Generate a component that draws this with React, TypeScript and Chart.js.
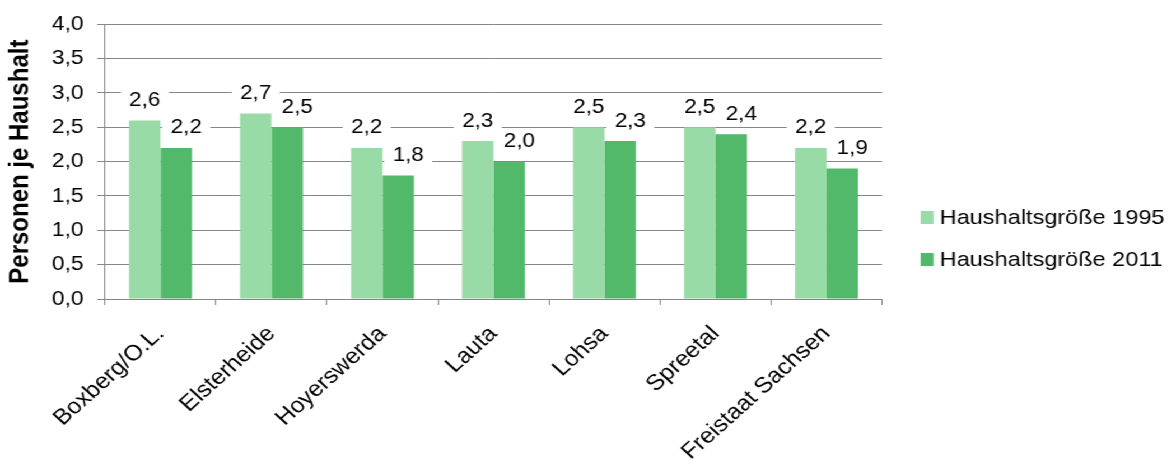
import { useEffect, useRef } from 'react';
import { Chart, registerables } from 'chart.js';

Chart.register(...registerables);

// Household size per municipality, persons per household
const categories = [
  'Boxberg/O.L.',
  'Elsterheide',
  'Hoyerswerda',
  'Lauta',
  'Lohsa',
  'Spreetal',
  'Freistaat Sachsen',
];
const size1995 = [2.6, 2.7, 2.2, 2.3, 2.5, 2.5, 2.2];
const size2011 = [2.2, 2.5, 1.8, 2.0, 2.3, 2.4, 1.9];
const seriesNames = ['Haushaltsgröße 1995', 'Haushaltsgröße 2011'];
const seriesColors = ['#98dba6', '#52b96b'];
const yMin = 0;
const yMax = 4;
const yStep = 0.5;
const yTitle = 'Personen je Haushalt';

// The drawing is rendered narrower and widened with a CSS scale
const STRETCH = 1.12;
const PAGE_W = 1176;
const PAGE_H = 461;
const CANVAS_W = Math.round(PAGE_W / STRETCH);

const FONT = '"Liberation Sans", Arial, Helvetica, sans-serif';
const GRID = '#868686';

const fmt = (v: number) => v.toFixed(1).replace('.', ',');

const valueLabels = {
  id: 'valueLabels',
  afterDatasetsDraw(chart: any) {
    const ctx = chart.ctx;
    ctx.save();
    ctx.font = `20px ${FONT}`;
    ctx.textAlign = 'center';
    ctx.textBaseline = 'middle';
    chart.data.datasets.forEach((ds: any, di: number) => {
      const meta = chart.getDatasetMeta(di);
      meta.data.forEach((bar: any, i: number) => {
        const text = fmt(ds.data[i]);
        const cx = bar.x + (di === 1 ? 9 : 0);
        const cy = bar.y - 21;
        const w = ctx.measureText(text).width + 15;
        ctx.fillStyle = '#ffffff';
        ctx.fillRect(cx - w / 2, cy - 11, w, 22);
        ctx.fillStyle = '#000000';
        ctx.fillText(text, cx, cy + 1);
      });
    });
    ctx.restore();
  },
};

const sideLegend = {
  id: 'sideLegend',
  afterDraw(chart: any) {
    const ctx = chart.ctx;
    const boxX = 822;
    const textX = 839;
    const rows = [217.5, 259.5];
    ctx.save();
    ctx.font = `21px ${FONT}`;
    ctx.textAlign = 'left';
    ctx.textBaseline = 'middle';
    chart.data.datasets.forEach((ds: any, di: number) => {
      const y = rows[di];
      ctx.fillStyle = ds.backgroundColor;
      ctx.fillRect(boxX, y - 6.5, 11.6, 13);
      ctx.fillStyle = '#000000';
      ctx.fillText(ds.label, textX, y + 1);
    });
    ctx.restore();
  },
};

export default function App() {
  const canvasRef = useRef<HTMLCanvasElement | null>(null);

  useEffect(() => {
    document.body.style.margin = '0';
    const canvas = canvasRef.current;
    if (!canvas) return;
    const chart = new Chart(canvas, {
      type: 'bar',
      data: {
        labels: categories,
        datasets: [
          {
            label: seriesNames[0],
            data: size1995,
            backgroundColor: seriesColors[0],
            borderWidth: 0,
            barPercentage: 1,
            categoryPercentage: 0.567,
          },
          {
            label: seriesNames[1],
            data: size2011,
            backgroundColor: seriesColors[1],
            borderWidth: 0,
            barPercentage: 1,
            categoryPercentage: 0.567,
          },
        ],
      },
      options: {
        responsive: false,
        animation: false,
        devicePixelRatio: 1,
        layout: { padding: { left: 0, right: CANVAS_W - 787.5, top: 21, bottom: 0 } },
        plugins: {
          legend: { display: false },
          tooltip: { enabled: false },
        },
        scales: {
          x: {
            offset: true,
            grid: {
              offset: true,
              drawOnChartArea: false,
              drawTicks: true,
              tickLength: 6,
              color: GRID,
              lineWidth: 1,
            },
            border: { color: GRID, width: 1 },
            ticks: {
              minRotation: 45,
              maxRotation: 45,
              autoSkip: false,
              padding: 16,
              color: '#000000',
              font: { family: FONT, size: 22 },
            },
            afterFit(scale: any) {
              scale.height = PAGE_H - 299;
              scale.paddingLeft = 0;
              scale.paddingRight = 0;
            },
          },
          y: {
            min: yMin,
            max: yMax,
            grid: {
              color: GRID,
              lineWidth: 1,
              drawTicks: true,
              tickLength: 7,
            },
            border: { color: GRID, width: 1 },
            ticks: {
              stepSize: yStep,
              padding: 12,
              color: '#000000',
              font: { family: FONT, size: 20.5 },
              callback: (v: any) => fmt(Number(v)),
            },
            title: {
              display: true,
              text: yTitle,
              color: '#000000',
              font: { family: FONT, size: 24, weight: 'bold' },
              padding: { top: 4, bottom: 0 },
            },
            afterFit(scale: any) {
              scale.width = 93.75;
            },
          },
        },
      },
      plugins: [valueLabels, sideLegend],
    });
    return () => chart.destroy();
  }, []);

  return (
    <div
      style={{
        position: 'fixed',
        left: 0,
        top: 0,
        width: CANVAS_W,
        height: PAGE_H,
        transform: `scaleX(${STRETCH})`,
        transformOrigin: '0 0',
        background: '#ffffff',
      }}
    >
      <canvas ref={canvasRef} width={CANVAS_W} height={PAGE_H} style={{ display: 'block' }} />
    </div>
  );
}
